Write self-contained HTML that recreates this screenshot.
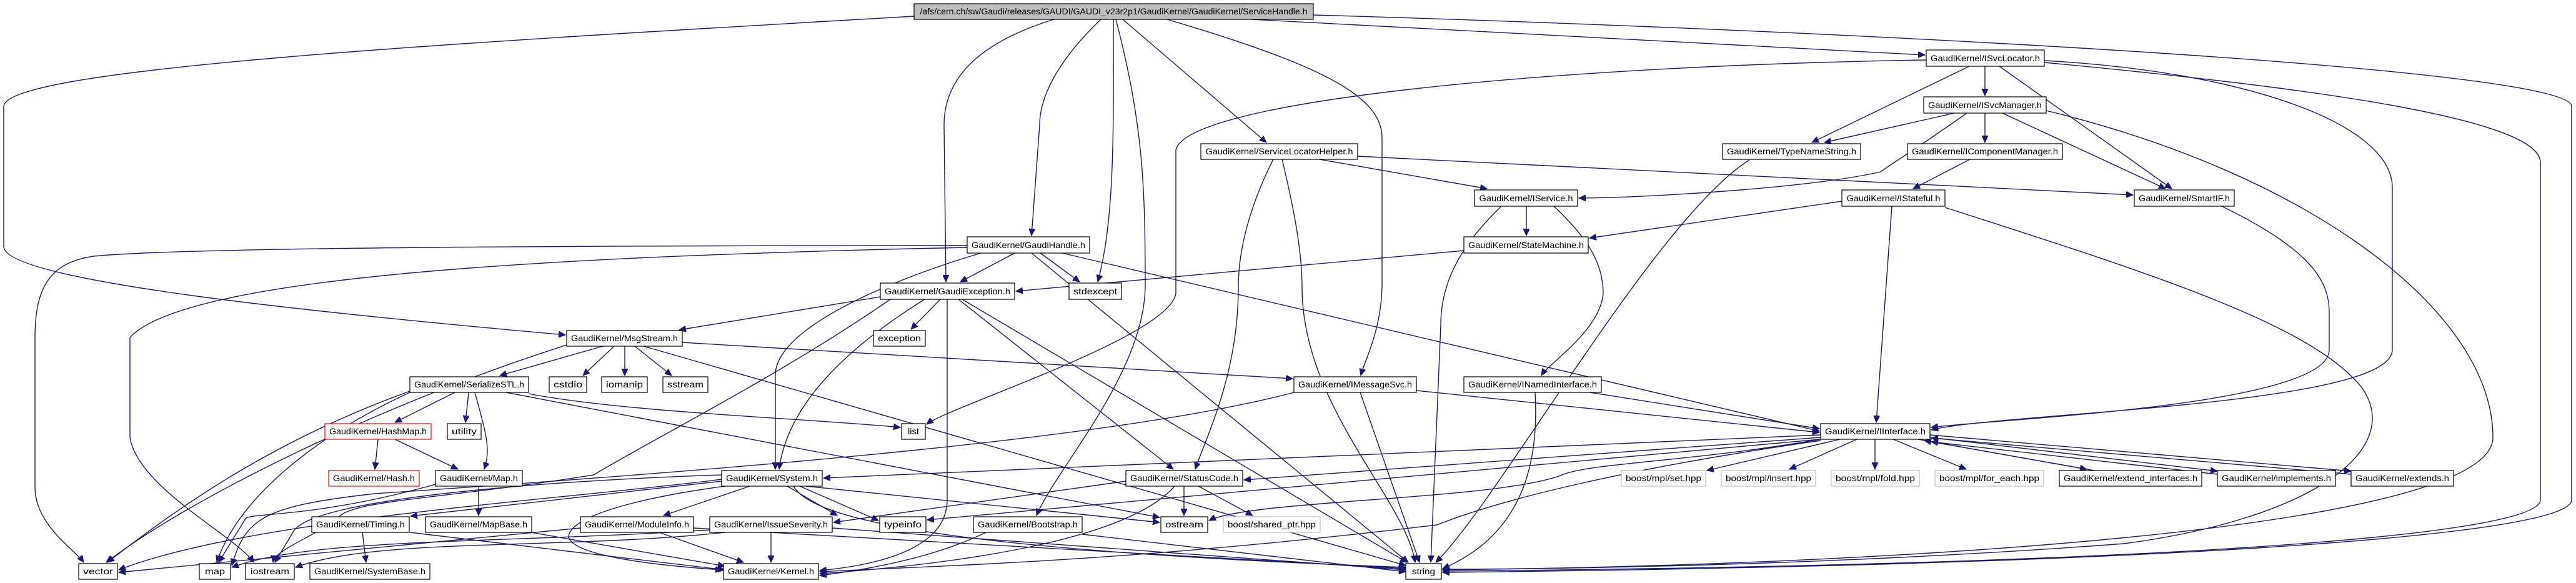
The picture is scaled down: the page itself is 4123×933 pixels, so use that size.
<!DOCTYPE html>
<html><head><meta charset="utf-8"><style>
html,body{margin:0;padding:0;background:#fff;}
svg{display:block;}
text{font-family:"Liberation Sans",sans-serif;font-size:14px;fill:#000;}
.e path{fill:none;stroke:#191970;stroke-width:1.4;}
.n rect.b{fill:#fff;stroke:#000;stroke-width:1.2;}
.n rect.g{fill:#fff;stroke:#bfbfbf;stroke-width:1.2;}
.n rect.r{fill:#fff;stroke:#ff0000;stroke-width:1.2;}
.n rect.m{fill:#bfbfbf;stroke:#000;stroke-width:1.2;}
</style></head><body>
<svg width="4123" height="933" viewBox="0 0 4123 933" xmlns="http://www.w3.org/2000/svg">
<defs>
<marker id="a" markerUnits="userSpaceOnUse" markerWidth="12" markerHeight="10" refX="11" refY="5" orient="auto">
<path d="M0,0 L11,5 L0,10 z" fill="#191970" stroke="#191970"/>
</marker>
</defs>
<g class="e" marker-end="url(#a)">
<path d="M1463,26 C700,70 10,110 6,170 L6,395 C10,450 500,500 905,536" marker-end="url(#a)"/>
<path d="M1687,31 C1560,70 1511,130 1511,200 L1514,451" marker-end="url(#a)"/>
<path d="M1762,31 C1700,90 1664,150 1664,200 L1651,377" marker-end="url(#a)"/>
<path d="M1782,31 C1782,200 1785,350 1757,451" marker-end="url(#a)"/>
<path d="M1786,31 C1830,200 1833,300 1833,460 C1830,600 1690,750 1659,825" marker-end="url(#a)"/>
<path d="M1797,31 L2027,228" marker-end="url(#a)"/>
<path d="M1868,31 C2100,100 2212,150 2212,220 L2212,460 C2210,530 2185,575 2178,601" marker-end="url(#a)"/>
<path d="M2003,31 L3081,88" marker-end="url(#a)"/>
<path d="M2102,24 C3000,50 4116,110 4116,170 L4116,800 C4116,860 3400,905 2309,916" marker-end="url(#a)"/>
<path d="M3083,96 C2500,105 1900,160 1882,240 L1882,470 C1870,540 1520,650 1483,679" marker-end="url(#a)"/>
<path d="M3272,100 C3700,140 4066,190 4066,260 L4066,800 C4066,860 3400,905 2309,914" marker-end="url(#a)"/>
<path d="M3272,97 C3600,115 3829,200 3829,300 L3829,560 C3829,650 3200,660 3091,688" marker-end="url(#a)"/>
<path d="M3200,106 L3476,302" marker-end="url(#a)"/>
<path d="M3177,106 L3177,153" marker-end="url(#a)"/>
<path d="M3152,106 L2900,228" marker-end="url(#a)"/>
<path d="M3128,181 L2920,228" marker-end="url(#a)"/>
<path d="M3177,181 L3177,228" marker-end="url(#a)"/>
<path d="M3205,181 L3466,302" marker-end="url(#a)"/>
<path d="M3148,181 C3050,250 3030,260 3010,275 C2900,300 2650,316 2527,317" marker-end="url(#a)"/>
<path d="M3275,177 C3700,280 3990,500 3990,700 C3990,850 3000,905 2309,912" marker-end="url(#a)"/>
<path d="M3153,255 L3062,302" marker-end="url(#a)"/>
<path d="M2948,322 L2544,381" marker-end="url(#a)"/>
<path d="M3028,330 L3003,676" marker-end="url(#a)"/>
<path d="M3113,332 C3450,440 3700,520 3780,620 C3850,720 3700,830 3400,870 C3000,900 2600,910 2309,911" marker-end="url(#a)"/>
<path d="M3556,330 C3700,400 3728,450 3728,500 L3728,560 C3728,650 3200,670 3091,684" marker-end="url(#a)"/>
<path d="M2800,256 C2650,350 2400,800 2298,900" marker-end="url(#a)"/>
<path d="M2173,250 L3414,312" marker-end="url(#a)"/>
<path d="M2112,255 L2380,302" marker-end="url(#a)"/>
<path d="M2038,255 C2000,330 1982,400 1982,460 C1982,600 1930,700 1913,751" marker-end="url(#a)"/>
<path d="M2052,255 C2070,330 2084,400 2084,460 C2084,650 2250,800 2265,900" marker-end="url(#a)"/>
<path d="M2443,330 L2443,377" marker-end="url(#a)"/>
<path d="M2487,330 C2540,380 2566,420 2566,470 C2560,530 2480,580 2467,601" marker-end="url(#a)"/>
<path d="M2403,330 C2330,400 2306,460 2306,520 L2290,900" marker-end="url(#a)"/>
<path d="M2343,401 L1626,466" marker-end="url(#a)"/>
<path d="M1624,405 L1537,451" marker-end="url(#a)"/>
<path d="M1665,405 L1728,451" marker-end="url(#a)"/>
<path d="M1700,405 L2912,690" marker-end="url(#a)"/>
<path d="M1651,405 L2254,900" marker-end="url(#a)"/>
<path d="M1570,405 C1450,440 1241,520 1241,600 L1241,751" marker-end="url(#a)"/>
<path d="M1548,393 C1000,393 300,395 150,410 C80,420 56,460 56,540 L56,780 C56,840 120,880 134,900" marker-end="url(#a)"/>
<path d="M1548,396 C900,410 300,440 208,540 L208,700 C220,780 380,860 406,900" marker-end="url(#a)"/>
<path d="M1409,475 L1087,528" marker-end="url(#a)"/>
<path d="M1505,479 L1458,527" marker-end="url(#a)"/>
<path d="M1480,479 C1350,560 1260,650 1247,751" marker-end="url(#a)"/>
<path d="M1425,479 C1250,600 1050,700 950,760 C700,800 560,800 540,830 C500,860 440,880 437,900" marker-end="url(#a)"/>
<path d="M1516,479 L1516,800 C1516,880 1400,905 1312,913" marker-end="url(#a)"/>
<path d="M1534,479 L1878,751" marker-end="url(#a)"/>
<path d="M1540,479 L2252,900" marker-end="url(#a)"/>
<path d="M965,554 L800,601" marker-end="url(#a)"/>
<path d="M983,554 L933,601" marker-end="url(#a)"/>
<path d="M1000,554 L1000,601" marker-end="url(#a)"/>
<path d="M1016,554 L1075,601" marker-end="url(#a)"/>
<path d="M907,552 C600,650 300,800 170,900" marker-end="url(#a)"/>
<path d="M1092,548 L2069,606" marker-end="url(#a)"/>
<path d="M1030,554 L2250,905" marker-end="url(#a)"/>
<path d="M728,628 L632,676" marker-end="url(#a)"/>
<path d="M750,628 L745,676" marker-end="url(#a)"/>
<path d="M760,628 C780,700 785,720 775,751" marker-end="url(#a)"/>
<path d="M656,626 C450,700 300,800 172,900" marker-end="url(#a)"/>
<path d="M656,628 C500,700 380,800 347,900" marker-end="url(#a)"/>
<path d="M846,630 C1000,660 1300,670 1441,684" marker-end="url(#a)"/>
<path d="M810,628 L1856,828" marker-end="url(#a)"/>
<path d="M605,703 L600,751" marker-end="url(#a)"/>
<path d="M632,703 L733,751" marker-end="url(#a)"/>
<path d="M766,778 L766,825" marker-end="url(#a)"/>
<path d="M697,775 C500,830 400,820 393,830 L350,900" marker-end="url(#a)"/>
<path d="M850,852 L1160,906" marker-end="url(#a)"/>
<path d="M580,852 L586,900" marker-end="url(#a)"/>
<path d="M656,852 L1160,912" marker-end="url(#a)"/>
<path d="M1155,770 L657,826" marker-end="url(#a)"/>
<path d="M1155,767 C900,800 400,830 190,912" marker-end="url(#a)"/>
<path d="M1155,760 C850,770 500,800 470,850 L440,900" marker-end="url(#a)"/>
<path d="M1200,778 L1062,825" marker-end="url(#a)"/>
<path d="M1260,778 L1340,825" marker-end="url(#a)"/>
<path d="M1160,778 C1000,800 910,830 910,860 C920,890 1050,905 1156,912" marker-end="url(#a)"/>
<path d="M1280,778 L1406,833" marker-end="url(#a)"/>
<path d="M1270,778 C1300,830 1500,880 2250,908" marker-end="url(#a)"/>
<path d="M1290,778 L1856,836" marker-end="url(#a)"/>
<path d="M1055,852 L1190,900" marker-end="url(#a)"/>
<path d="M1110,845 L2250,910" marker-end="url(#a)"/>
<path d="M929,845 L190,916" marker-end="url(#a)"/>
<path d="M1234,852 L1234,900" marker-end="url(#a)"/>
<path d="M1136,848 C800,870 500,860 371,908" marker-end="url(#a)"/>
<path d="M1160,852 C900,880 600,860 473,908" marker-end="url(#a)"/>
<path d="M1332,845 L2250,912" marker-end="url(#a)"/>
<path d="M1802,770 L1334,836" marker-end="url(#a)"/>
<path d="M1895,778 L1895,825" marker-end="url(#a)"/>
<path d="M1918,778 L2005,825" marker-end="url(#a)"/>
<path d="M1880,778 C1800,870 1500,905 1312,918" marker-end="url(#a)"/>
<path d="M1578,852 C1500,890 1400,910 1312,921" marker-end="url(#a)"/>
<path d="M1732,855 L2250,915" marker-end="url(#a)"/>
<path d="M2267,625 L2912,692" marker-end="url(#a)"/>
<path d="M2177,628 L2272,900" marker-end="url(#a)"/>
<path d="M2071,628 C1800,700 1200,750 600,790 C420,810 393,830 371,905" marker-end="url(#a)"/>
<path d="M2545,628 L2912,686" marker-end="url(#a)"/>
<path d="M2457,628 C2462,720 2450,850 2309,910" marker-end="url(#a)"/>
<path d="M2914,696 L1318,765" marker-end="url(#a)"/>
<path d="M2914,700 L1991,768" marker-end="url(#a)"/>
<path d="M2914,703 L1484,832" marker-end="url(#a)"/>
<path d="M2914,703 C2700,740 2550,740 2500,760 C2400,800 2000,800 1935,833" marker-end="url(#a)"/>
<path d="M2914,705 C2600,750 2400,800 2300,840 C1800,900 1500,905 1312,915" marker-end="url(#a)"/>
<path d="M2945,703 L2732,753" marker-end="url(#a)"/>
<path d="M2972,703 L2864,751" marker-end="url(#a)"/>
<path d="M3001,703 L3001,751" marker-end="url(#a)"/>
<path d="M3030,703 L3147,751" marker-end="url(#a)"/>
<path d="M3070,703 L3340,751" marker-end="url(#a)"/>
<path d="M3352,753 L3080,705" marker-end="url(#a)"/>
<path d="M3089,700 L3549,754" marker-end="url(#a)"/>
<path d="M3549,759 L3091,707" marker-end="url(#a)"/>
<path d="M3089,696 L3763,754" marker-end="url(#a)"/>
<path d="M3763,759 L3091,701" marker-end="url(#a)"/>
</g>
<g class="n" text-anchor="middle" lengthAdjust="spacingAndGlyphs">
<rect class="m" x="1463" y="6" width="639" height="25"/><text x="1782.5" y="23" textLength="620" lengthAdjust="spacingAndGlyphs">/afs/cern.ch/sw/Gaudi/releases/GAUDI/GAUDI_v23r2p1/GaudiKernel/GaudiKernel/ServiceHandle.h</text>
<rect class="b" x="3083" y="80" width="189" height="26"/><text x="3177.5" y="98" textLength="175" lengthAdjust="spacingAndGlyphs">GaudiKernel/ISvcLocator.h</text>
<rect class="b" x="3079" y="155" width="196" height="26"/><text x="3177" y="173" textLength="182" lengthAdjust="spacingAndGlyphs">GaudiKernel/ISvcManager.h</text>
<rect class="b" x="2757" y="230" width="221" height="25"/><text x="2867.5" y="247" textLength="207" lengthAdjust="spacingAndGlyphs">GaudiKernel/TypeNameString.h</text>
<rect class="b" x="3053" y="230" width="248" height="25"/><text x="3177" y="247" textLength="234" lengthAdjust="spacingAndGlyphs">GaudiKernel/IComponentManager.h</text>
<rect class="b" x="1922" y="230" width="251" height="25"/><text x="2047.5" y="247" textLength="236" lengthAdjust="spacingAndGlyphs">GaudiKernel/ServiceLocatorHelper.h</text>
<rect class="b" x="2360" y="304" width="165" height="26"/><text x="2442.5" y="322" textLength="150" lengthAdjust="spacingAndGlyphs">GaudiKernel/IService.h</text>
<rect class="b" x="2948" y="304" width="165" height="26"/><text x="3030.5" y="322" textLength="150" lengthAdjust="spacingAndGlyphs">GaudiKernel/IStateful.h</text>
<rect class="b" x="3416" y="304" width="160" height="26"/><text x="3496" y="322" textLength="146" lengthAdjust="spacingAndGlyphs">GaudiKernel/SmartIF.h</text>
<rect class="b" x="1548" y="379" width="196" height="26"/><text x="1646" y="397" textLength="182" lengthAdjust="spacingAndGlyphs">GaudiKernel/GaudiHandle.h</text>
<rect class="b" x="2343" y="379" width="199" height="26"/><text x="2442.5" y="397" textLength="185" lengthAdjust="spacingAndGlyphs">GaudiKernel/StateMachine.h</text>
<rect class="b" x="1409" y="453" width="215" height="26"/><text x="1516.5" y="471" textLength="201" lengthAdjust="spacingAndGlyphs">GaudiKernel/GaudiException.h</text>
<rect class="b" x="1711" y="453" width="84" height="26"/><text x="1753" y="471" textLength="70" lengthAdjust="spacingAndGlyphs">stdexcept</text>
<rect class="b" x="907" y="529" width="185" height="25"/><text x="999.5" y="546" textLength="171" lengthAdjust="spacingAndGlyphs">GaudiKernel/MsgStream.h</text>
<rect class="b" x="1398" y="529" width="83" height="25"/><text x="1439.5" y="546" textLength="69" lengthAdjust="spacingAndGlyphs">exception</text>
<rect class="b" x="656" y="603" width="190" height="25"/><text x="751" y="620" textLength="176" lengthAdjust="spacingAndGlyphs">GaudiKernel/SerializeSTL.h</text>
<rect class="b" x="879" y="603" width="60" height="25"/><text x="909" y="620" textLength="46" lengthAdjust="spacingAndGlyphs">cstdio</text>
<rect class="b" x="963" y="603" width="73" height="25"/><text x="999.5" y="620" textLength="59" lengthAdjust="spacingAndGlyphs">iomanip</text>
<rect class="b" x="1061" y="603" width="72" height="25"/><text x="1097" y="620" textLength="58" lengthAdjust="spacingAndGlyphs">sstream</text>
<rect class="b" x="2071" y="603" width="196" height="25"/><text x="2169" y="620" textLength="182" lengthAdjust="spacingAndGlyphs">GaudiKernel/IMessageSvc.h</text>
<rect class="b" x="2343" y="603" width="220" height="25"/><text x="2453" y="620" textLength="206" lengthAdjust="spacingAndGlyphs">GaudiKernel/INamedInterface.h</text>
<rect class="r" x="520" y="678" width="170" height="25"/><text x="605" y="695" textLength="156" lengthAdjust="spacingAndGlyphs">GaudiKernel/HashMap.h</text>
<rect class="b" x="716" y="678" width="54" height="25"/><text x="743" y="695" textLength="40" lengthAdjust="spacingAndGlyphs">utility</text>
<rect class="b" x="1443" y="678" width="38" height="25"/><text x="1462" y="695" textLength="18" lengthAdjust="spacingAndGlyphs">list</text>
<rect class="b" x="2914" y="678" width="175" height="25"/><text x="3001.5" y="695" textLength="161" lengthAdjust="spacingAndGlyphs">GaudiKernel/IInterface.h</text>
<rect class="r" x="526" y="753" width="145" height="25"/><text x="598.5" y="770" textLength="131" lengthAdjust="spacingAndGlyphs">GaudiKernel/Hash.h</text>
<rect class="b" x="697" y="753" width="139" height="25"/><text x="766.5" y="770" textLength="125" lengthAdjust="spacingAndGlyphs">GaudiKernel/Map.h</text>
<rect class="b" x="1155" y="753" width="161" height="25"/><text x="1235.5" y="770" textLength="147" lengthAdjust="spacingAndGlyphs">GaudiKernel/System.h</text>
<rect class="b" x="1802" y="753" width="187" height="25"/><text x="1895.5" y="770" textLength="173" lengthAdjust="spacingAndGlyphs">GaudiKernel/StatusCode.h</text>
<rect class="g" x="2595" y="753" width="135" height="25"/><text x="2662.5" y="770" textLength="121" lengthAdjust="spacingAndGlyphs">boost/mpl/set.hpp</text>
<rect class="g" x="2755" y="753" width="151" height="25"/><text x="2830.5" y="770" textLength="137" lengthAdjust="spacingAndGlyphs">boost/mpl/insert.hpp</text>
<rect class="g" x="2931" y="753" width="141" height="25"/><text x="3001.5" y="770" textLength="127" lengthAdjust="spacingAndGlyphs">boost/mpl/fold.hpp</text>
<rect class="g" x="3097" y="753" width="174" height="25"/><text x="3184" y="770" textLength="160" lengthAdjust="spacingAndGlyphs">boost/mpl/for_each.hpp</text>
<rect class="b" x="3296" y="753" width="228" height="25"/><text x="3410" y="770" textLength="214" lengthAdjust="spacingAndGlyphs">GaudiKernel/extend_interfaces.h</text>
<rect class="b" x="3549" y="753" width="189" height="25"/><text x="3643.5" y="770" textLength="175" lengthAdjust="spacingAndGlyphs">GaudiKernel/implements.h</text>
<rect class="b" x="3763" y="753" width="164" height="25"/><text x="3845" y="770" textLength="150" lengthAdjust="spacingAndGlyphs">GaudiKernel/extends.h</text>
<rect class="b" x="499" y="827" width="156" height="25"/><text x="577" y="844" textLength="142" lengthAdjust="spacingAndGlyphs">GaudiKernel/Timing.h</text>
<rect class="b" x="681" y="827" width="170" height="25"/><text x="766" y="844" textLength="156" lengthAdjust="spacingAndGlyphs">GaudiKernel/MapBase.h</text>
<rect class="b" x="929" y="827" width="181" height="25"/><text x="1019.5" y="844" textLength="167" lengthAdjust="spacingAndGlyphs">GaudiKernel/ModuleInfo.h</text>
<rect class="b" x="1136" y="827" width="196" height="25"/><text x="1234" y="844" textLength="182" lengthAdjust="spacingAndGlyphs">GaudiKernel/IssueSeverity.h</text>
<rect class="b" x="1408" y="827" width="74" height="25"/><text x="1445" y="844" textLength="60" lengthAdjust="spacingAndGlyphs">typeinfo</text>
<rect class="b" x="1558" y="827" width="174" height="25"/><text x="1645" y="844" textLength="160" lengthAdjust="spacingAndGlyphs">GaudiKernel/Bootstrap.h</text>
<rect class="b" x="1858" y="827" width="75" height="25"/><text x="1895.5" y="844" textLength="61" lengthAdjust="spacingAndGlyphs">ostream</text>
<rect class="g" x="1958" y="827" width="155" height="25"/><text x="2035.5" y="844" textLength="141" lengthAdjust="spacingAndGlyphs">boost/shared_ptr.hpp</text>
<rect class="b" x="126" y="902" width="62" height="25"/><text x="157" y="919" textLength="48" lengthAdjust="spacingAndGlyphs">vector</text>
<rect class="b" x="319" y="902" width="50" height="25"/><text x="344" y="919" textLength="32" lengthAdjust="spacingAndGlyphs">map</text>
<rect class="b" x="393" y="902" width="78" height="25"/><text x="432" y="919" textLength="62" lengthAdjust="spacingAndGlyphs">iostream</text>
<rect class="b" x="496" y="902" width="192" height="25"/><text x="592" y="919" textLength="178" lengthAdjust="spacingAndGlyphs">GaudiKernel/SystemBase.h</text>
<rect class="b" x="1158" y="902" width="152" height="25"/><text x="1234" y="919" textLength="138" lengthAdjust="spacingAndGlyphs">GaudiKernel/Kernel.h</text>
<rect class="b" x="2250" y="902" width="57" height="25"/><text x="2278.5" y="919" textLength="37" lengthAdjust="spacingAndGlyphs">string</text>
</g>
</svg>
</body></html>
